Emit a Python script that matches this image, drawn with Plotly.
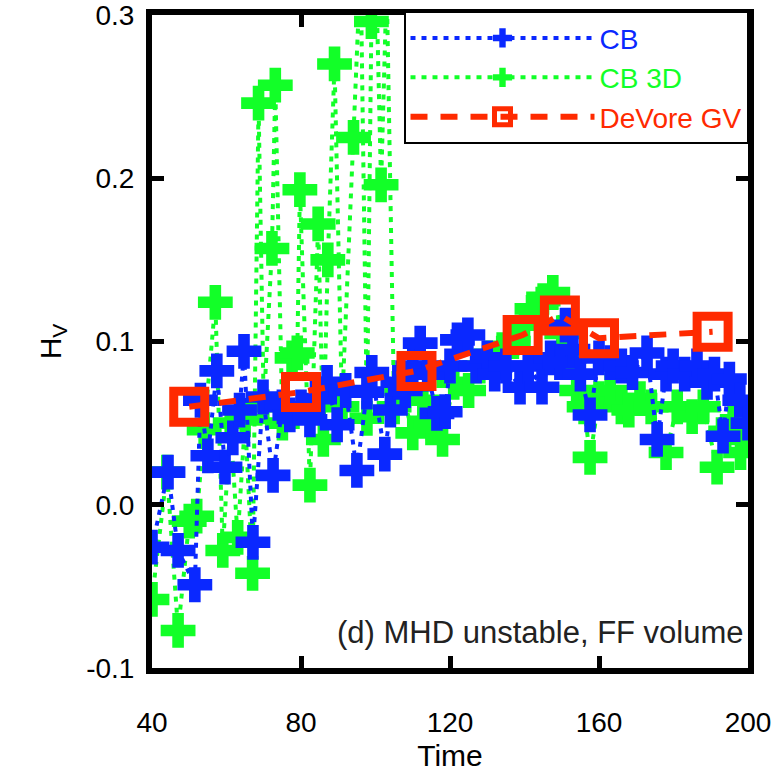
import plotly.graph_objects as go

# CB (blue)
cb_t = [40, 44.3, 47, 51.5, 53, 55, 57.4, 59.6, 61.7, 63.5, 64.7, 67.1, 69.8, 72.5,
        75, 77, 80, 82.4, 85, 87, 89.7, 92, 95, 97.7, 99, 102.5, 104, 106, 108, 110, 112,
        114, 116.5, 118.7, 120, 122, 124.8, 127, 130, 132, 135, 138.8, 141, 144.7, 147,
        149.5, 151, 153, 155, 157.6, 160, 163, 166, 169, 172.9, 175.6, 178, 179.9, 183,
        186.3, 189, 191, 193.3, 195, 197.8, 200]
cb_h = [-0.026, 0.020, -0.028, -0.049, 0.064, 0.03, 0.082, 0.023, 0.041, 0.058,
        0.094, -0.023, 0.066, 0.018, 0.06, 0.055, 0.06, 0.052, 0.065, 0.075, 0.049, 0.07,
        0.021, 0.069, 0.081, 0.031, 0.058, 0.075, 0.07, 0.085, 0.099, 0.08, 0.056, 0.057,
        0.085, 0.101, 0.104, 0.085, 0.09, 0.08, 0.085, 0.072, 0.085, 0.072, 0.09, 0.087,
        0.11, 0.095, 0.08, 0.055, 0.09, 0.087, 0.085, 0.081, 0.093, 0.04, 0.08, 0.085,
        0.08, 0.085, 0.075, 0.08, 0.042, 0.077, 0.064, 0.05]

# CB 3D (green)
cb3_t = [40, 44, 47, 50, 52, 54, 57, 59, 61, 63, 65, 67, 68.6, 70, 72.2, 73.1, 75,
         77.6, 79, 79.7, 82.4, 84.6, 86, 87.2, 89, 91, 94.1, 96, 97.7, 98.9, 100, 101.5,
         103, 105, 107, 110, 112.7, 115, 118, 121, 125, 128, 131, 134, 137, 140, 142, 145,
         147.6, 150, 152, 154, 156, 157.6, 160, 163, 166, 168, 171, 174, 178, 181, 185,
         188, 191.7, 194, 196, 198, 200]
cb3_h = [-0.058, 0.02, -0.077, -0.01, -0.007, 0.046, 0.124, -0.028, 0.05,
         -0.02, 0.052, -0.042, 0.246, 0.06, 0.157, 0.257, 0.05, 0.09, 0.093, 0.193, 0.012,
         0.172, 0.04, 0.15, 0.27, 0.06, 0.225, 0.33, 0.053, 0.296, 0.34, 0.196, 0.32, 0.06,
         0.07, 0.044, 0.064, 0.05, 0.04, 0.075, 0.07, 0.085, 0.09, 0.095, 0.1, 0.11, 0.12,
         0.125, 0.13, 0.105, 0.09, 0.07, 0.06, 0.029, 0.065, 0.07, 0.06, 0.058, 0.065,
         0.06, 0.032, 0.06, 0.054, 0.06, 0.023, 0.045, 0.05, 0.032, 0.04]

# DeVore GV (red)
dv_t = [50, 80, 111, 139.5, 149.5, 160, 190.5]
dv_h = [0.060, 0.069, 0.082, 0.104, 0.116, 0.102, 0.106]

x_ticks = [40, 80, 120, 160, 200]
x_labels = ["40", "80", "120", "160", "200"]
y_ticks = [-0.1, 0.0, 0.1, 0.2, 0.3]
y_labels = ["-0.1", "0.0", "0.1", "0.2", "0.3"]

BLUE = "#0a28ff"
GREEN = "#12ff28"
RED = "#ff2a00"
FONT = "Liberation Sans, Arial, sans-serif"

fig = go.Figure()
fig.add_trace(go.Scatter(
    x=cb3_t, y=cb3_h, mode="lines+markers", legendrank=2,
    name=f'<span style="color:{GREEN}">CB 3D</span>',
    line=dict(color=GREEN, width=4, dash="5px,6px"),
    marker=dict(symbol="cross", size=29, color=GREEN, line=dict(width=0)),
))
fig.add_trace(go.Scatter(
    x=cb_t, y=cb_h, mode="lines+markers", legendrank=1,
    name=f'<span style="color:{BLUE}">CB</span>',
    line=dict(color=BLUE, width=4, dash="5px,6px"),
    marker=dict(symbol="cross", size=29, color=BLUE, line=dict(width=0)),
))
fig.add_trace(go.Scatter(
    x=dv_t, y=dv_h, mode="lines+markers", legendrank=3,
    name=f'<span style="color:{RED}">DeVore GV</span>',
    line=dict(color=RED, width=6, dash="17px,13px"),
    marker=dict(symbol="square-open", size=31, color=RED, line=dict(width=9, color=RED)),
))

axis_common = dict(
    showline=True, linewidth=6, linecolor="black", mirror="ticks",
    ticks="inside", ticklen=12, tickwidth=5, tickcolor="black",
    showgrid=False, zeroline=False, automargin=False,
    ticklabeloverflow="allow",
    tickfont=dict(family=FONT, size=28, color="black"),
)

fig.update_layout(
    width=782, height=772,
    margin=dict(l=152, r=34, t=15, b=104, autoexpand=False),
    paper_bgcolor="white", plot_bgcolor="white",
    font=dict(family=FONT, size=28, color="black"),
    xaxis=dict(range=[40, 200], tickvals=x_ticks, ticktext=x_labels,
               ticklabelstandoff=24,
               title=dict(text="Time", standoff=10, font=dict(size=30)),
               **axis_common),
    yaxis=dict(range=[-0.1, 0.3], tickvals=y_ticks, ticktext=y_labels,
               ticklabelstandoff=6,
               title=dict(text="H<sub>V</sub>", standoff=18, font=dict(size=30)),
               **axis_common),
    legend=dict(x=1, y=1.005, xanchor="right", yanchor="top",
                bgcolor="white", bordercolor="black", borderwidth=1.5,
                itemwidth=184, font=dict(family=FONT, size=28),
                tracegroupgap=0),
    showlegend=True,
    annotations=[dict(
        text="(d) MHD unstable, FF volume", xref="paper", yref="paper",
        x=0.997, y=0.055, xanchor="right", yanchor="middle", showarrow=False,
        font=dict(family=FONT, size=31, color="#222222"),
    )],
)

fig.write_html("out.html")
